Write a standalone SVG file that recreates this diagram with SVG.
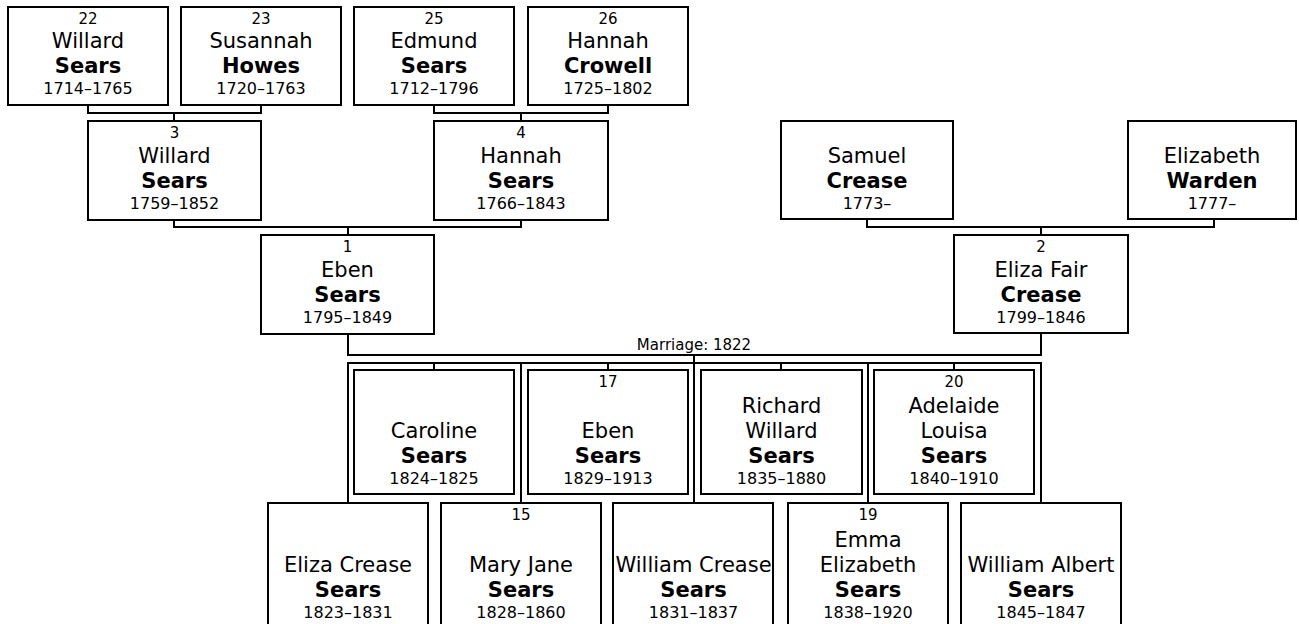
<svg xmlns="http://www.w3.org/2000/svg" width="1299" height="624" viewBox="0 0 1299 624">
<style>
.box{fill:#fff;stroke:#000;stroke-width:2}
.con{fill:none;stroke:#000;stroke-width:2}
text{font-family:"DejaVu Sans",Verdana,sans-serif;text-anchor:middle;fill:#000}
.n{font-size:15px}
.g{font-size:21px}
.s{font-size:21px;font-weight:bold}
.d{font-size:16px}
.m{font-size:15px}
</style>
<rect width="1299" height="624" fill="#fff"/>
<g id="connectors">
<path class="con" d="M88,105V113H261V105M174,113V121"/>
<path class="con" d="M434,105V113H608V105M521,113V121"/>
<path class="con" d="M174,220V227H521V220M348,227V235"/>
<path class="con" d="M867,219V227H1214V219M1041,227V235"/>
<path class="con" d="M348,334V355H1041V333"/>
<path class="con" d="M694,355V503"/>
<path class="con" d="M348,503V363H1041V503M521,363V503M868,363V503"/>
<path class="con" d="M434,363V370M608,363V370M781,363V370M954,363V370"/>
<text class="m" x="694" y="350">Marriage: 1822</text>
</g>
<g id="p22"><rect class="box" x="8" y="7" width="160" height="98"/><text class="n" x="88" y="24">22</text><text class="g" x="88" y="48">Willard</text><text class="s" x="88" y="73">Sears</text><text class="d" x="88" y="94">1714–1765</text></g>
<g id="p23"><rect class="box" x="181" y="7" width="160" height="98"/><text class="n" x="261" y="24">23</text><text class="g" x="261" y="48">Susannah</text><text class="s" x="261" y="73">Howes</text><text class="d" x="261" y="94">1720–1763</text></g>
<g id="p25"><rect class="box" x="354" y="7" width="160" height="98"/><text class="n" x="434" y="24">25</text><text class="g" x="434" y="48">Edmund</text><text class="s" x="434" y="73">Sears</text><text class="d" x="434" y="94">1712–1796</text></g>
<g id="p26"><rect class="box" x="528" y="7" width="160" height="98"/><text class="n" x="608" y="24">26</text><text class="g" x="608" y="48">Hannah</text><text class="s" x="608" y="73">Crowell</text><text class="d" x="608" y="94">1725–1802</text></g>
<g id="p3"><rect class="box" x="88" y="121" width="173" height="99"/><text class="n" x="174.5" y="138">3</text><text class="g" x="174.5" y="163">Willard</text><text class="s" x="174.5" y="188">Sears</text><text class="d" x="174.5" y="209">1759–1852</text></g>
<g id="p4"><rect class="box" x="434" y="121" width="174" height="99"/><text class="n" x="521" y="138">4</text><text class="g" x="521" y="163">Hannah</text><text class="s" x="521" y="188">Sears</text><text class="d" x="521" y="209">1766–1843</text></g>
<g id="psamuel"><rect class="box" x="781" y="121" width="172" height="98"/><text class="g" x="867" y="163">Samuel</text><text class="s" x="867" y="188">Crease</text><text class="d" x="867" y="209">1773–</text></g>
<g id="pelizabeth"><rect class="box" x="1128" y="121" width="168" height="98"/><text class="g" x="1212" y="163">Elizabeth</text><text class="s" x="1212" y="188">Warden</text><text class="d" x="1212" y="209">1777–</text></g>
<g id="p1"><rect class="box" x="261" y="235" width="173" height="99"/><text class="n" x="347.5" y="252">1</text><text class="g" x="347.5" y="277">Eben</text><text class="s" x="347.5" y="302">Sears</text><text class="d" x="347.5" y="323">1795–1849</text></g>
<g id="p2"><rect class="box" x="954" y="235" width="174" height="98"/><text class="n" x="1041" y="252">2</text><text class="g" x="1041" y="277">Eliza Fair</text><text class="s" x="1041" y="302">Crease</text><text class="d" x="1041" y="323">1799–1846</text></g>
<g id="caroline"><rect class="box" x="354" y="370" width="160" height="124"/><text class="g" x="434" y="438">Caroline</text><text class="s" x="434" y="463">Sears</text><text class="d" x="434" y="484">1824–1825</text></g>
<g id="p17"><rect class="box" x="528" y="370" width="160" height="124"/><text class="n" x="608" y="387">17</text><text class="g" x="608" y="438">Eben</text><text class="s" x="608" y="463">Sears</text><text class="d" x="608" y="484">1829–1913</text></g>
<g id="richard"><rect class="box" x="701" y="370" width="161" height="124"/><text class="g" x="781.5" y="413">Richard</text><text class="g" x="781.5" y="438">Willard</text><text class="s" x="781.5" y="463">Sears</text><text class="d" x="781.5" y="484">1835–1880</text></g>
<g id="p20"><rect class="box" x="874" y="370" width="160" height="124"/><text class="n" x="954" y="387">20</text><text class="g" x="954" y="413">Adelaide</text><text class="g" x="954" y="438">Louisa</text><text class="s" x="954" y="463">Sears</text><text class="d" x="954" y="484">1840–1910</text></g>
<g id="elizacrease"><rect class="box" x="268" y="503" width="160" height="126"/><text class="g" x="348" y="572">Eliza Crease</text><text class="s" x="348" y="597">Sears</text><text class="d" x="348" y="618">1823–1831</text></g>
<g id="p15"><rect class="box" x="441" y="503" width="160" height="126"/><text class="n" x="521" y="520">15</text><text class="g" x="521" y="572">Mary Jane</text><text class="s" x="521" y="597">Sears</text><text class="d" x="521" y="618">1828–1860</text></g>
<g id="williamcrease"><rect class="box" x="613" y="503" width="160" height="126"/><text class="g" x="693.5" y="572">William Crease</text><text class="s" x="693.5" y="597">Sears</text><text class="d" x="693.5" y="618">1831–1837</text></g>
<g id="p19"><rect class="box" x="788" y="503" width="160" height="126"/><text class="n" x="868" y="520">19</text><text class="g" x="868" y="547">Emma</text><text class="g" x="868" y="572">Elizabeth</text><text class="s" x="868" y="597">Sears</text><text class="d" x="868" y="618">1838–1920</text></g>
<g id="williamalbert"><rect class="box" x="961" y="503" width="160" height="126"/><text class="g" x="1041" y="572">William Albert</text><text class="s" x="1041" y="597">Sears</text><text class="d" x="1041" y="618">1845–1847</text></g>
</svg>
